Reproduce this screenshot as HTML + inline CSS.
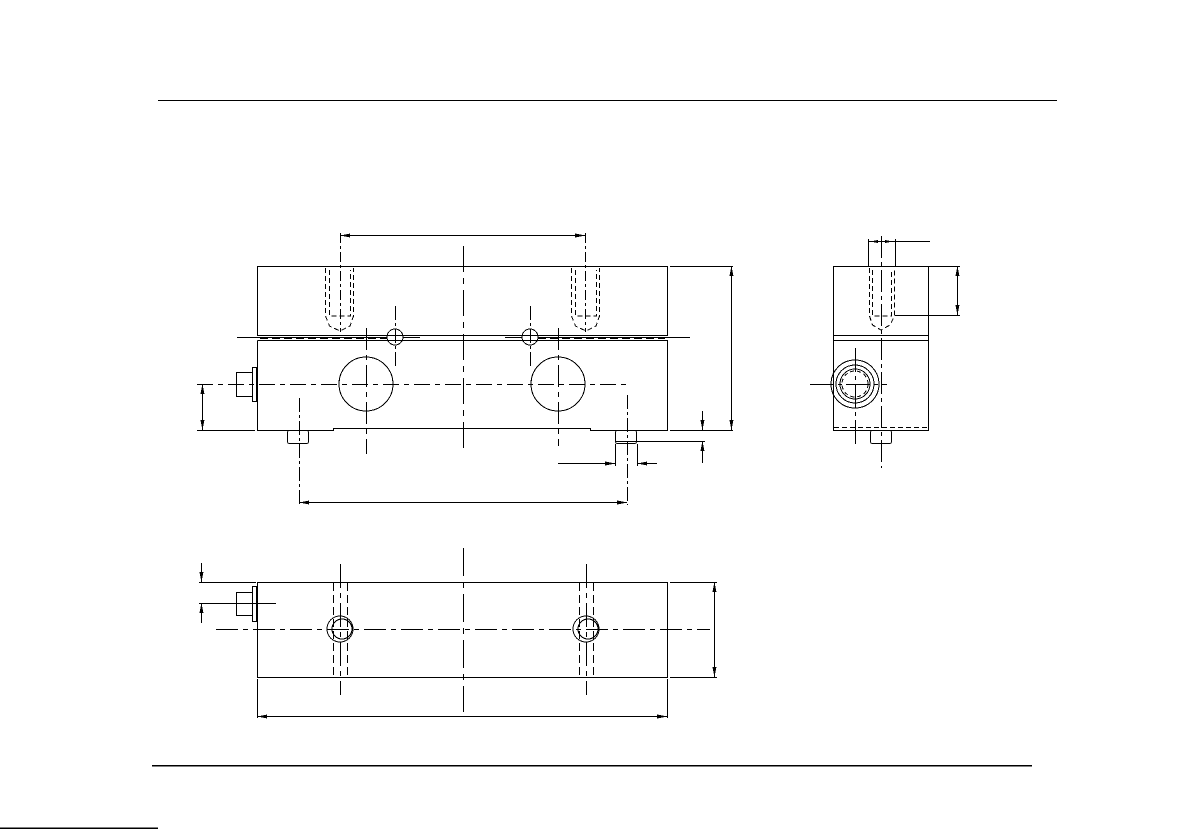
<!DOCTYPE html>
<html><head><meta charset="utf-8"><style>html,body{margin:0;padding:0;background:#fff}svg{display:block}</style></head><body>
<svg width="1192" height="829" viewBox="0 0 1192 829" xmlns="http://www.w3.org/2000/svg" fill="none" stroke="#000" stroke-width="1" shape-rendering="crispEdges">
<defs>
<marker id="a" viewBox="0 0 10 4" refX="10" refY="2" markerWidth="10" markerHeight="4" orient="auto-start-reverse" markerUnits="userSpaceOnUse"><path d="M0,0 L10,2 L0,4z" fill="#000" stroke="none"/></marker>
</defs>
<line x1="158" y1="100.5" x2="1057" y2="100.5" stroke-width="1.2"/>
<line x1="152" y1="765.5" x2="1032" y2="765.5" stroke-width="1.5"/>
<line x1="0" y1="828" x2="158" y2="828" stroke-width="1.5"/>
<g id="front">
<rect x="257.5" y="266.5" width="410" height="69"/>
<polyline points="257.5,340.5 667.5,340.5 667.5,430.5 590.5,430.5 590.5,428.5 333.5,428.5 333.5,430.5 257.5,430.5 257.5,340.5"/>
<line x1="237" y1="337.5" x2="387" y2="337.5"/>
<line x1="260" y1="338.5" x2="387" y2="338.5" stroke-dasharray="8,4"/>
<line x1="403" y1="337.5" x2="420" y2="337.5"/>
<circle cx="395" cy="337" r="8"/>
<line x1="505" y1="337.5" x2="522" y2="337.5"/>
<line x1="538" y1="338.5" x2="665" y2="338.5" stroke-dasharray="8,4"/>
<line x1="538" y1="337.5" x2="690" y2="337.5"/>
<circle cx="530" cy="337" r="8"/>
<line x1="395.5" y1="306" x2="395.5" y2="368" stroke-dasharray="14,3,3,3"/>
<line x1="530.5" y1="306" x2="530.5" y2="368" stroke-dasharray="14,3,3,3"/>
<circle cx="366" cy="384" r="27"/>
<circle cx="558" cy="384" r="27"/>
<line x1="197" y1="384.5" x2="628" y2="384.5" stroke-dasharray="16,5,5,5"/>
<line x1="366.5" y1="328" x2="366.5" y2="454" stroke-dasharray="22,5,5,5"/>
<line x1="558.5" y1="328" x2="558.5" y2="446" stroke-dasharray="22,5,5,5"/>
<line x1="463.5" y1="246" x2="463.5" y2="452" stroke-dasharray="26,6,6,6"/>
<g stroke-dasharray="5,3">
<polyline points="325.5,268 325.5,316 329.5,326 340,331 350,326 353.5,316 353.5,268"/>
<polyline points="329.5,270 329.5,316 350.5,316 350.5,270"/>
<polyline points="571.5,268 571.5,316 575.5,326 586,331 596,326 599.5,316 599.5,268"/>
<polyline points="575.5,270 575.5,316 596.5,316 596.5,270"/>
</g>
<line x1="340.5" y1="233" x2="340.5" y2="332" stroke-dasharray="10,3,3,3"/>
<line x1="585.5" y1="233" x2="585.5" y2="332" stroke-dasharray="10,3,3,3"/>
<line x1="340" y1="235.5" x2="585" y2="235.5" marker-start="url(#a)" marker-end="url(#a)"/>
<rect x="236.5" y="372.5" width="16" height="24"/>
<rect x="252.5" y="367.5" width="4" height="34"/>
<rect x="287.5" y="430.5" width="21" height="13" rx="2"/>
<rect x="615.5" y="430.5" width="21" height="13" rx="2"/>
<line x1="616" y1="441.5" x2="637" y2="441.5"/>
<line x1="197" y1="430.5" x2="255" y2="430.5"/>
<line x1="202.5" y1="384" x2="202.5" y2="430" marker-start="url(#a)" marker-end="url(#a)"/>
<line x1="299.5" y1="398" x2="299.5" y2="505" stroke-dasharray="14,3,3,3"/>
<line x1="627.5" y1="395" x2="627.5" y2="505" stroke-dasharray="14,3,3,3"/>
<line x1="299" y1="502.5" x2="627" y2="502.5" marker-start="url(#a)" marker-end="url(#a)"/>
<line x1="670" y1="266.5" x2="733" y2="266.5"/>
<line x1="670" y1="430.5" x2="733" y2="430.5"/>
<line x1="731.5" y1="266" x2="731.5" y2="430" marker-start="url(#a)" marker-end="url(#a)"/>
<line x1="637" y1="441.5" x2="705" y2="441.5"/>
<line x1="702.5" y1="411" x2="702.5" y2="430" marker-end="url(#a)"/>
<line x1="702.5" y1="463" x2="702.5" y2="441" marker-end="url(#a)"/>
<line x1="615.5" y1="444" x2="615.5" y2="466"/>
<line x1="637.5" y1="444" x2="637.5" y2="466"/>
<line x1="558" y1="463.5" x2="615" y2="463.5" marker-end="url(#a)"/>
<line x1="657" y1="463.5" x2="637" y2="463.5" marker-end="url(#a)"/>
</g>
<g id="side">
<rect x="833.5" y="266.5" width="95" height="164"/>
<line x1="833" y1="335.5" x2="928" y2="335.5"/>
<line x1="833" y1="340.5" x2="928" y2="340.5"/>
<line x1="834" y1="427.5" x2="928" y2="427.5" stroke-dasharray="5,3"/>
<g stroke-dasharray="5,3">
<polyline points="869.5,268 869.5,316 872.5,325 881,330 890,325 894.5,316 894.5,268"/>
<polyline points="872.5,270 872.5,316 891.5,316 891.5,270"/>
</g>
<line x1="881.5" y1="236" x2="881.5" y2="468" stroke-dasharray="22,4,4,4"/>
<line x1="868.5" y1="239" x2="868.5" y2="266"/>
<line x1="895.5" y1="239" x2="895.5" y2="266"/>
<line x1="868" y1="241.5" x2="930" y2="241.5"/>
<path d="M870,241.5 l8,-1.5 v3z M893,241.5 l-8,-1.5 v3z" fill="#000" stroke="none"/>
<line x1="928" y1="266.5" x2="960" y2="266.5"/>
<line x1="895" y1="315.5" x2="960" y2="315.5"/>
<line x1="957.5" y1="266" x2="957.5" y2="315" marker-start="url(#a)" marker-end="url(#a)"/>
<circle cx="855" cy="384" r="24"/>
<circle cx="855" cy="384" r="19"/>
<circle cx="855" cy="384" r="15"/>
<circle cx="855" cy="384" r="13" stroke-dasharray="4,3"/>
<line x1="810" y1="384.5" x2="887" y2="384.5" stroke-dasharray="24,4,4,4"/>
<line x1="855.5" y1="348" x2="855.5" y2="447" stroke-dasharray="24,4,4,4"/>
<rect x="870.5" y="430.5" width="21" height="13" rx="2"/>
</g>
<g id="bottom">
<rect x="257.5" y="582.5" width="410" height="95"/>
<rect x="236.5" y="592.5" width="16" height="23"/>
<rect x="252.5" y="586.5" width="4" height="35"/>
<circle cx="340" cy="629" r="13"/>
<circle cx="342" cy="629" r="10"/>
<circle cx="586" cy="629" r="13"/>
<circle cx="588" cy="629" r="10"/>
<line x1="333.5" y1="583" x2="333.5" y2="677" stroke-dasharray="8,4"/>
<line x1="347.5" y1="583" x2="347.5" y2="677" stroke-dasharray="8,4"/>
<line x1="579.5" y1="583" x2="579.5" y2="677" stroke-dasharray="8,4"/>
<line x1="593.5" y1="583" x2="593.5" y2="677" stroke-dasharray="8,4"/>
<line x1="340.5" y1="564" x2="340.5" y2="695" stroke-dasharray="24,5,5,5"/>
<line x1="586.5" y1="564" x2="586.5" y2="695" stroke-dasharray="24,5,5,5"/>
<line x1="463.5" y1="548" x2="463.5" y2="712" stroke-dasharray="28,6,6,6"/>
<line x1="216" y1="629.5" x2="710" y2="629.5" stroke-dasharray="22,5,5,5"/>
<line x1="199" y1="582.5" x2="256" y2="582.5"/>
<line x1="199" y1="603.5" x2="276" y2="603.5"/>
<line x1="201.5" y1="563" x2="201.5" y2="582" marker-end="url(#a)"/>
<line x1="201.5" y1="623" x2="201.5" y2="603" marker-end="url(#a)"/>
<line x1="257.5" y1="679" x2="257.5" y2="718"/>
<line x1="667.5" y1="679" x2="667.5" y2="718"/>
<line x1="257" y1="716.5" x2="667" y2="716.5" marker-start="url(#a)" marker-end="url(#a)"/>
<line x1="670" y1="582.5" x2="717" y2="582.5"/>
<line x1="670" y1="677.5" x2="717" y2="677.5"/>
<line x1="714.5" y1="582" x2="714.5" y2="677" marker-start="url(#a)" marker-end="url(#a)"/>
</g>
</svg>
</body></html>
